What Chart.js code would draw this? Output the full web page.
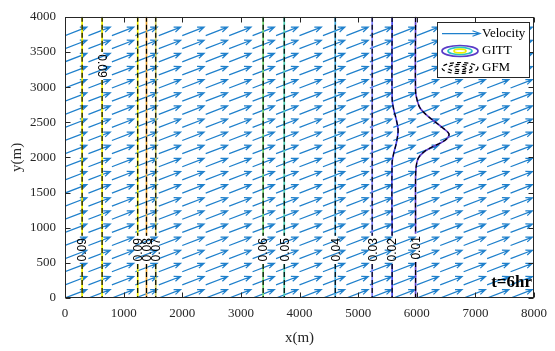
<!DOCTYPE html>
<html><head><meta charset="utf-8">
<script src="https://cdn.jsdelivr.net/npm/chart.js@4/dist/chart.umd.min.js"></script>
<style>html,body{margin:0;padding:0;background:#fff;}#wrap{width:555px;height:351px;}</style>
</head><body><div id="wrap"><canvas id="c" width="555" height="351"></canvas></div>
<script>
// ---- data ----
const xTicks = [0,1000,2000,3000,4000,5000,6000,7000,8000];
const yTicks = [0,500,1000,1500,2000,2500,3000,3500,4000];
const arrowX = [0,400,800,1200,1600,2000,2400,2800,3200,3600,4000,4400,4800,5200,5600,6000,6400,6800,7200,7600,8000];
const arrowY = [0,187,373,560,747,933,1120,1307,1493,1680,1867,2053,2240,2427,2613,2800,2987,3173,3360,3547,3733];
const arrowU = 372;   // velocity x component (m, plotted)
const arrowV = 119;   // velocity y component (m, plotted)
const contourLevels = ['0.09','0.09','0.09','0.08','0.07','0.06','0.05','0.04','0.03','0.02','0.01'];
const contourX = [292,633,1240,1390,1548,3380,3740,4610,5240,5580,5980];
const contourLabelY = [685,3300,685,685,685,685,685,685,685,685,713];
const c002X = [5580,5580,5602,5653,5682,5653,5611,5580,5580];
const c002Y = [4000,2840,2700,2530,2380,2210,2070,1930,0];
const c001X = [5980,5980,6008,6059,6189,6443,6549,6515,6414,6245,6110,6025,5991,5980,5980];
const c001Y = [4000,2937,2811,2699,2587,2420,2336,2266,2210,2140,2070,1986,1874,1720,0];

// ---- styles ----
const levelColors = ['#f2f200','#f2f200','#f0f000','#f2a830','#cfcf60','#6cd46c','#48d0b4','#3eaae0','#7f7fff','#4848f0','#6040d0'];
const AX = '#262626';
const ARROW = '#1f80cc';
const GAP = 200;

function withGap(xs, ys, center){
  const out = [];
  const gTop = center + GAP, gBot = center - GAP;
  for (let i=0;i<xs.length;i++){
    if (i>0 && ys[i-1] > gTop && ys[i] < gBot){
      out.push({x:xs[i], y:gTop}); out.push({x:xs[i], y:null}); out.push({x:xs[i], y:gBot});
    }
    out.push({x:xs[i], y:ys[i]});
  }
  return out;
}
function contourPath(i){
  if (i===9) return withGap(c002X, c002Y, contourLabelY[i]);
  if (i===10) return withGap(c001X, c001Y, contourLabelY[i]);
  return withGap([contourX[i],contourX[i]],[4000,0],contourLabelY[i]);
}

const datasets = [];
contourX.forEach((cx,i)=>{
  datasets.push({label:'GITT '+contourLevels[i], data:contourPath(i), showLine:true, pointRadius:0, order:2,
    borderColor:levelColors[i], borderWidth:1.7, tension:(i>=9?0.35:0), spanGaps:false, fill:false});
});
contourX.forEach((cx,i)=>{
  datasets.push({label:'GFM '+contourLevels[i], data:contourPath(i), showLine:true, pointRadius:0, order:1,
    borderColor:'#000', borderWidth:1.2, borderDash:[5,3], tension:(i>=9?0.35:0), spanGaps:false, fill:false});
});

function arrow(ctx,x0,y0,x1,y1,h,a){
  const ang = Math.atan2(y1-y0,x1-x0);
  ctx.moveTo(x0,y0); ctx.lineTo(x1,y1);
  ctx.moveTo(x1-h*Math.cos(ang-a), y1-h*Math.sin(ang-a));
  ctx.lineTo(x1,y1);
  ctx.lineTo(x1-h*Math.cos(ang+a), y1-h*Math.sin(ang+a));
}

const quiver = {
  id:'quiver',
  beforeDatasetsDraw(chart){
    const {ctx, chartArea:a, scales:{x,y}} = chart;
    ctx.save();
    ctx.beginPath(); ctx.rect(a.left,a.top,a.right-a.left,a.bottom-a.top); ctx.clip();
    ctx.strokeStyle=ARROW; ctx.lineWidth=1.25;
    ctx.beginPath();
    for (const xv of arrowX) for (const yv of arrowY){
      arrow(ctx, x.getPixelForValue(xv), y.getPixelForValue(yv),
        x.getPixelForValue(xv+arrowU), y.getPixelForValue(yv+arrowV), 7, 0.38);
    }
    ctx.stroke();
    ctx.restore();
  },
  afterDatasetsDraw(chart){
    const {ctx, chartArea:a, scales:{x,y}} = chart;
    ctx.save();
    // contour labels
    ctx.fillStyle='#000';
    ctx.font='12px "Liberation Sans", Arial, sans-serif';
    ctx.textAlign='center'; ctx.textBaseline='middle';
    contourX.forEach((cx,i)=>{
      const px = x.getPixelForValue(cx), py = y.getPixelForValue(contourLabelY[i]);
      ctx.save(); ctx.translate(px,py); ctx.rotate(i===1?Math.PI/2:-Math.PI/2);
      ctx.fillText(contourLevels[i],0,1); ctx.restore();
    });
    // box
    ctx.strokeStyle=AX; ctx.lineWidth=1;
    const L=Math.round(a.left)+0.5, R=Math.round(a.right)-0.5, T=Math.round(a.top)+0.5, B=Math.round(a.bottom)-0.5;
    ctx.strokeRect(L,T,R-L,B-T);
    ctx.beginPath();
    xTicks.forEach(v=>{const p=Math.round(x.getPixelForValue(v))+0.5; ctx.moveTo(p,B); ctx.lineTo(p,B-5); ctx.moveTo(p,T); ctx.lineTo(p,T+5);});
    yTicks.forEach(v=>{const p=Math.round(y.getPixelForValue(v))+0.5; ctx.moveTo(L,p); ctx.lineTo(L+5,p); ctx.moveTo(R,p); ctx.lineTo(R-5,p);});
    ctx.stroke();
    // t=6hr
    ctx.fillStyle='#000'; ctx.font='bold 17px "Liberation Serif", serif';
    ctx.textAlign='right'; ctx.textBaseline='middle';
    ctx.fillText('t=6hr', 532, 283);
    // legend
    const lx=437.5, ly=22.5, lw=92, lh=55;
    ctx.fillStyle='#fff'; ctx.fillRect(lx,ly,lw,lh);
    ctx.strokeStyle=AX; ctx.strokeRect(lx,ly,lw,lh);
    ctx.strokeStyle=ARROW; ctx.lineWidth=1.25; ctx.beginPath();
    arrow(ctx,442,33.5,480,33.5,8,0.35); ctx.stroke();
    const ex=460, ey1=51, ey2=68;
    ctx.lineWidth=1.7;
    [['#5a3cc8',18,5.5],['#2cc4c0',12,3.6],['#f0f000',6,1.8]].forEach(([c,rx,ry])=>{
      ctx.strokeStyle=c; ctx.beginPath(); ctx.ellipse(ex,ey1,rx,ry,0,0,Math.PI*2); ctx.stroke();
    });
    ctx.strokeStyle='#000'; ctx.lineWidth=1.2; ctx.setLineDash([4,3]);
    [[18,5.5],[12,3.6],[6,1.8]].forEach(([rx,ry])=>{
      ctx.beginPath(); ctx.ellipse(ex,ey2,rx,ry,0,0,Math.PI*2); ctx.stroke();
    });
    ctx.setLineDash([]);
    ctx.fillStyle='#000'; ctx.font='13px "Liberation Serif", serif';
    ctx.textAlign='left'; ctx.textBaseline='middle';
    ctx.fillText('Velocity',482,33.5); ctx.fillText('GITT',482,51); ctx.fillText('GFM',482,68);
    ctx.restore();
  }
};

new Chart(document.getElementById('c'), {
  type:'scatter',
  data:{datasets},
  options:{
    responsive:false, animation:false, devicePixelRatio:1,
    layout:{padding:{top:12,right:17,left:0,bottom:0}},
    plugins:{legend:{display:false}, tooltip:{enabled:false}},
    scales:{
      x:{type:'linear', min:0, max:8000,
        afterBuildTicks:s=>{s.ticks=xTicks.map(v=>({value:v}));},
        grid:{display:false, drawTicks:false}, border:{display:false},
        ticks:{font:{family:'Liberation Serif',size:13}, color:AX, padding:8, maxRotation:0, autoSkip:false, callback:v=>String(v)},
        title:{display:true, text:'x(m)', color:AX, font:{family:'Liberation Serif',size:15}, padding:{top:0,bottom:4}},
        afterFit:s=>{s.height=53;}},
      y:{type:'linear', min:0, max:4000,
        afterBuildTicks:s=>{s.ticks=yTicks.map(v=>({value:v}));},
        grid:{display:false, drawTicks:false}, border:{display:false},
        ticks:{font:{family:'Liberation Serif',size:13}, color:AX, padding:9, autoSkip:false, callback:v=>String(v)},
        title:{display:true, text:'y(m)', color:AX, font:{family:'Liberation Serif',size:15}, padding:{top:8,bottom:0}},
        afterFit:s=>{s.width=65;}}
    }
  },
  plugins:[quiver]
});
</script></body></html>
